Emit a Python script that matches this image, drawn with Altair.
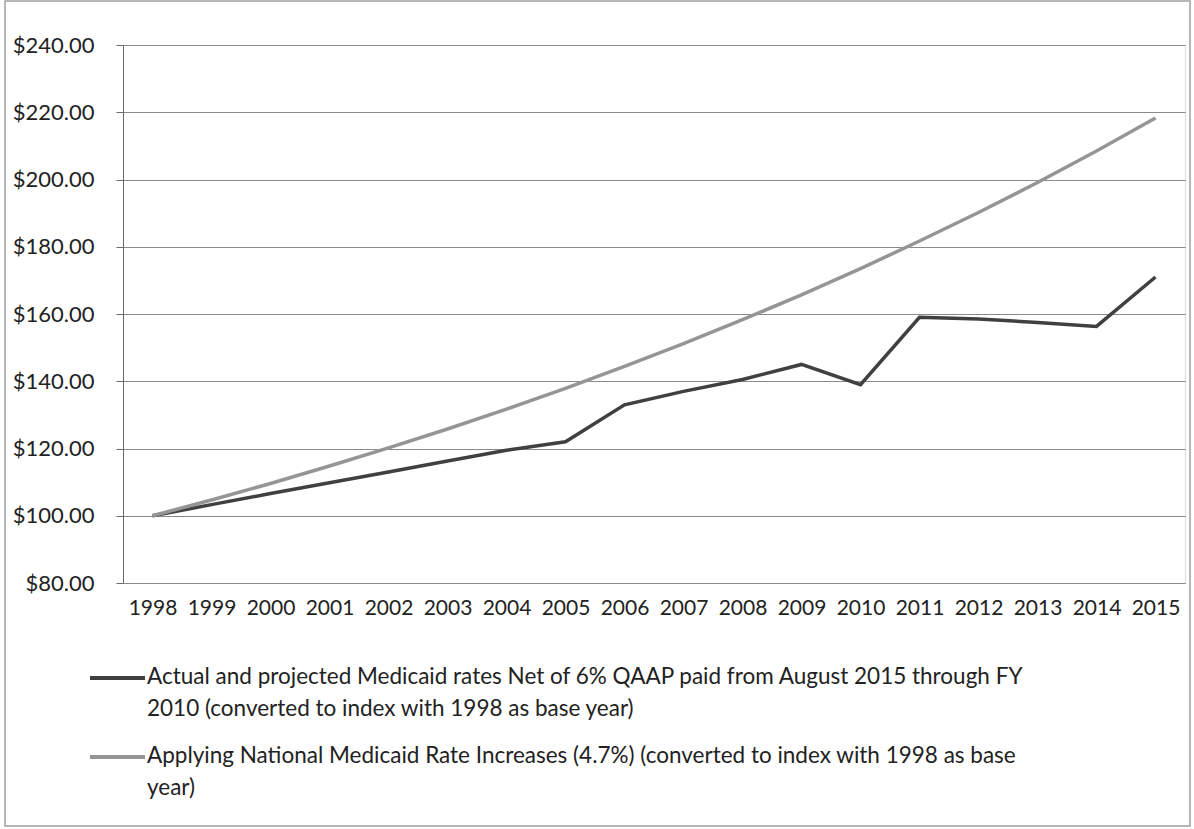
import altair as alt
import pandas as pd

years = [str(y) for y in range(1998, 2016)]
actual = [100.0, 103.3, 106.6, 109.8, 113.0, 116.3, 119.5, 122.0, 133.0, 137.0,
          140.5, 145.0, 139.0, 159.0, 158.5, 157.5, 156.3, 171.0]
national = [100.0, 104.7, 109.6, 114.8, 120.2, 125.8, 131.7, 137.9, 144.4, 151.2,
            158.3, 165.7, 173.5, 181.7, 190.2, 199.1, 208.5, 218.3]

s_actual = "Actual and projected Medicaid rates Net of 6% QAAP paid from August 2015 through FY\n2010 (converted to index with 1998 as base year)"
s_national = "Applying National Medicaid Rate Increases (4.7%) (converted to index with 1998 as base\nyear)"
series_names = [s_actual, s_national]
series_colors = ["#404040", "#959595"]

rows = []
for y, a, n in zip(years, actual, national):
    rows.append({"year": y, "value": a, "series": s_actual})
    rows.append({"year": y, "value": n, "series": s_national})
df = pd.DataFrame(rows)

FONT = "Lato"

lines = alt.Chart(df).mark_line(strokeWidth=3.5).encode(
    x=alt.X("year:O", sort=years,
            scale=alt.Scale(type="point", padding=0.5),
            axis=alt.Axis(title=None, labelAngle=0, grid=False, ticks=False,
                          domainColor="#8a8a8a", labelFont=FONT, labelFontSize=21,
                          labelColor="#222222", labelPadding=14)),
    y=alt.Y("value:Q", scale=alt.Scale(domain=[80, 240], nice=False, zero=False),
            axis=alt.Axis(title=None, values=[80, 100, 120, 140, 160, 180, 200, 220, 240],
                          format="$,.2f", grid=True, gridColor="#8a8a8a", gridWidth=1.2,
                          domainColor="#6a6a6a", tickColor="#6a6a6a", tickSize=7,
                          labelFont=FONT, labelFontSize=22, labelColor="#222222",
                          labelPadding=22)),
    color=alt.Color("series:N", sort=series_names,
                    scale=alt.Scale(domain=series_names, range=series_colors),
                    legend=None),
    order=alt.Order("year:O"),
)

frame = alt.Chart(pd.DataFrame([{"k": 1}])).mark_rect(
    fill=None, stroke="#a0a0a0", strokeWidth=1.5).encode(
    x=alt.value(-118), x2=alt.value(1067), y=alt.value(-44), y2=alt.value(781))

layers = [frame, lines]
legend_y = [633, 712]
for name, col, ly in zip(series_names, series_colors, legend_y):
    ldf = pd.DataFrame([{"label": name}])
    layers.append(
        alt.Chart(ldf).mark_rule(color=col, strokeWidth=4).encode(
            x=alt.value(-33), x2=alt.value(22), y=alt.value(ly))
    )
    layers.append(
        alt.Chart(ldf).mark_text(align="left", baseline="top", lineBreak="\n",
                                 lineHeight=32, font=FONT, fontSize=22.5,
                                 color="#222222").encode(
            x=alt.value(24), y=alt.value(ly - 12), text="label:N")
    )

chart = alt.layer(*layers).properties(
    width=1062, height=538,
    autosize=alt.AutoSizeParams(type="none"),
    padding={"left": 123, "top": 45, "right": 9, "bottom": 246},
).configure_view(stroke=None).configure(background="white")

chart.save("out.html", embed_options={"renderer": "svg", "actions": False})
